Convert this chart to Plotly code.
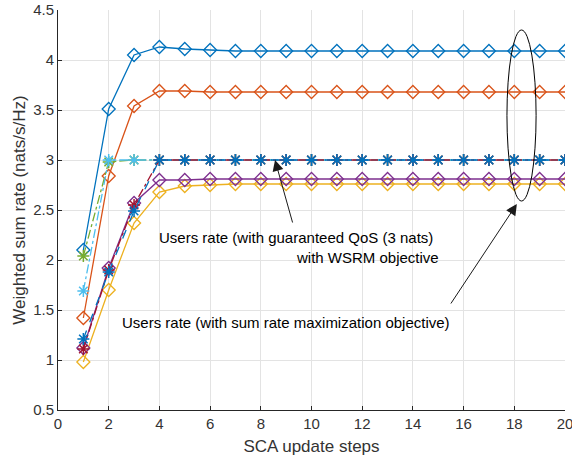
import plotly.graph_objects as go

steps = list(range(1, 21))

# Sum-rate maximization objective (solid, diamonds)
sr_blue   = [2.10, 3.51, 4.05, 4.13, 4.11, 4.10] + [4.09] * 14
sr_orange = [1.42, 2.84, 3.54, 3.69, 3.69, 3.68] + [3.68] * 14
sr_yellow = [0.98, 1.70, 2.37, 2.68, 2.74, 2.75] + [2.76] * 14
sr_purple = [1.12, 1.92, 2.57, 2.80, 2.80, 2.81] + [2.81] * 14

# Guaranteed QoS (3 nats) with WSRM objective (dash-dot, asterisks)
q_green     = [2.04, 2.98, 3.00] + [3.00] * 17
q_lightblue = [1.69, 3.00, 3.00] + [3.00] * 17
q_darkred   = [1.11, 1.90, 2.55] + [3.00] * 17
q_blue      = [1.21, 1.88, 2.49] + [3.00] * 17

FONT = "Liberation Sans, Arial, sans-serif"
fig = go.Figure()

def solid(y, c):
    fig.add_trace(go.Scatter(x=steps, y=y, mode="lines+markers",
        line=dict(color=c, width=1.3),
        marker=dict(symbol="diamond-open", size=10, color=c, line=dict(color=c, width=1.3)),
        showlegend=False))

def dashed(y, c, dash="dashdot"):
    fig.add_trace(go.Scatter(x=steps, y=y, mode="lines+markers",
        line=dict(color=c, width=1.3, dash=dash),
        marker=dict(symbol="asterisk-open", size=10, color=c, line=dict(color=c, width=1.5)),
        showlegend=False))

solid(sr_blue, "#0072BD")
solid(sr_orange, "#D95319")
solid(sr_yellow, "#EDB120")
solid(sr_purple, "#7E2F8E")
dashed(q_green, "#77AC30")
dashed(q_lightblue, "#4DBEEE")
dashed(q_darkred, "#A2142F")
dashed(q_blue, "#0072BD", "dash")

fig.add_shape(type="circle", xref="x", yref="y", x0=17.71, x1=18.86, y0=2.59, y1=4.30,
              line=dict(color="black", width=1))

arrow_common = dict(xref="x", yref="y", axref="x", ayref="y", text="", showarrow=True,
                    arrowhead=2, arrowsize=2.2, arrowwidth=1, arrowcolor="#1a1a1a")
fig.add_annotation(x=8.56, y=3.0, ax=9.27, ay=2.36, **arrow_common)
fig.add_annotation(x=18.1, y=2.56, ax=15.46, ay=1.55, **arrow_common)

txt_font = dict(family=FONT, size=15, color="black")
fig.add_annotation(x=3.9, y=2.23, xref="x", yref="y", text="Users rate (with guaranteed QoS (3 nats)",
                   showarrow=False, xanchor="left", yanchor="middle", font=txt_font)
fig.add_annotation(x=9.3, y=2.03, xref="x", yref="y", text="with WSRM objective",
                   showarrow=False, xanchor="left", yanchor="middle", font=txt_font)
fig.add_annotation(x=2.45, y=1.38, xref="x", yref="y", text="Users rate (with sum rate maximization objective)",
                   showarrow=False, xanchor="left", yanchor="middle", font=txt_font)

axis_common = dict(showgrid=True, gridcolor="#e3e3e3", gridwidth=1, zeroline=False,
                   showline=True, linecolor="#262626", linewidth=1, ticks="inside",
                   ticklen=4, tickcolor="#262626", mirror=False, ticklabeloverflow="allow",
                   automargin=False,
                   tickfont=dict(family=FONT, size=15, color="#333333"))

fig.update_xaxes(range=[0, 20], dtick=2, tick0=0,
                 title=dict(text="SCA update steps", font=dict(family=FONT, size=17, color="#333333"), standoff=9),
                 **axis_common)
fig.update_yaxes(range=[0.5, 4.5], dtick=0.5, tick0=0.5,
                 title=dict(text="Weighted sum rate (nats/s/Hz)", font=dict(family=FONT, size=17, color="#333333"), standoff=3),
                 **axis_common)

fig.update_layout(width=572, height=459, margin=dict(l=58, r=7, t=10, b=49),
                  plot_bgcolor="white", paper_bgcolor="white")

fig.write_html("out.html")
